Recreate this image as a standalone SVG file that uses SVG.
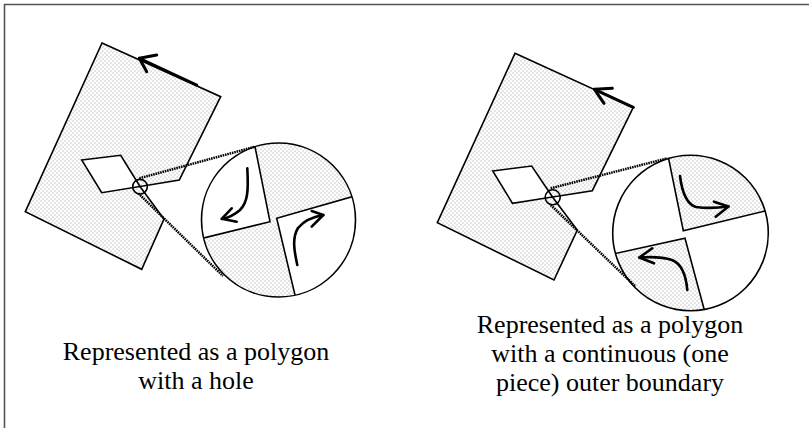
<svg xmlns="http://www.w3.org/2000/svg" width="809" height="428" viewBox="0 0 809 428">
<style>
.edge{fill:none;stroke:#000;stroke-width:1.6;stroke-linejoin:miter}
.shape{fill:url(#dots);stroke:#000;stroke-width:1.6;fill-rule:evenodd}
.dot{fill:none;stroke:#000;stroke-width:2.5;stroke-dasharray:1.6 0.8}
.arr{fill:none;stroke:#000;stroke-width:2.6;stroke-linecap:round;stroke-linejoin:round}
.big{fill:none;stroke:#000;stroke-width:3;stroke-linecap:round;stroke-linejoin:round}
.lbl{font-family:"Liberation Serif","Times New Roman",serif;font-size:26px;fill:#000;text-anchor:middle}
</style>
<defs>
<pattern id="dots" width="4" height="4" patternUnits="userSpaceOnUse">
<rect width="4" height="4" fill="#fff"/>
<circle cx="1" cy="1" r="0.8" fill="#c4c4c4"/>
<circle cx="3" cy="3" r="0.8" fill="#c4c4c4"/>
</pattern>
<clipPath id="cl"><circle cx="278.5" cy="220" r="77"/></clipPath>
<clipPath id="cr"><circle cx="690.5" cy="233" r="77.8"/></clipPath>
</defs>
<rect x="0" y="0" width="809" height="428" fill="#fff"/>
<path d="M4.5 430 V4.5 H812" fill="none" stroke="#555" stroke-width="1.6"/>

<g id="left-polygon">
<path class="shape" d="M102 43 L220.7 96.7 L179.3 180 L140 186.5 L164 219 L141.7 269.3 L25.3 211.7 Z M81.7 160 L120.7 155.3 L140 186.5 L101.7 192.7 Z"/>
<circle cx="140" cy="186.7" r="7.3" class="edge" stroke-width="1.5"/>
<polyline class="big" points="196.7,85 139.3,58.3"/>
<polyline class="big" points="156.7,55 139.3,58.3 146.7,71.7"/>
</g>

<g id="left-zoom">
<circle cx="278.5" cy="220" r="77" fill="url(#dots)"/>
<g clip-path="url(#cl)">
<polygon points="250,121.7 270,221.7 180,243.8 180,121.7" fill="#fff"/>
<polygon points="376,190 276.7,218.3 300,316 376,316" fill="#fff"/>
<polyline class="edge" points="250,121.7 270,221.7 180,243.8"/>
<polyline class="edge" points="376,190 276.7,218.3 300,316"/>
</g>
<circle cx="278.5" cy="220" r="77" class="edge"/>
<path class="arr" d="M247.3 168.3 C248.5 190 248 202 240 210 Q232 217 222 219"/>
<polyline class="arr" points="231.7,208.3 221.7,218.8 236.7,221.7"/>
<path class="arr" d="M297.3 265 C294 250 292 238 298 228 Q306 218 323.3 215"/>
<polyline class="arr" points="311.7,211 323.3,215 311.7,226.7"/>
</g>

<g id="right-polygon">
<path class="shape" d="M515 53.3 L633.3 107.3 L592.3 190.7 L552.5 197 L577.3 230 L554 280 L437.3 222.7 Z M492.7 171 L531.7 166 L552.5 197 L512.5 203.3 Z"/>
<circle cx="552.7" cy="197.3" r="7.5" class="edge" stroke-width="1.5"/>
<polyline class="big" points="633.3,107.3 594.5,89.3"/>
<polyline class="big" points="612.3,88.3 594.5,89.3 604,103.3"/>
</g>

<g id="right-zoom">
<circle cx="690.5" cy="233" r="77.8" fill="#fff"/>
<g clip-path="url(#cr)">
<polygon points="663,131 683.3,230.7 790,205 790,131" fill="url(#dots)"/>
<polygon points="590,259 685,238.3 710,331 590,331" fill="url(#dots)"/>
<polyline class="edge" points="663,131 683.3,230.7 790,205"/>
<polyline class="edge" points="590,259 685,238.3 710,331"/>
</g>
<circle cx="690.5" cy="233" r="77.8" class="edge"/>
<path class="arr" d="M680 176 C682 192 686 204 696 207 Q710 209 728.5 206.5"/>
<polyline class="arr" points="714,201.7 728.5,206.5 715.7,216.7"/>
<path class="arr" d="M687.3 290 C686 275 682 264 672 260 Q660 256 639.3 257.5"/>
<polyline class="arr" points="652.3,248.3 639.3,257.5 654,263.3"/>
</g>

<g id="connectors">
<line class="dot" x1="139.3" y1="178.3" x2="255" y2="146.7"/>
<line class="dot" x1="138.3" y1="193.3" x2="223" y2="276"/>
<line class="dot" x1="550.7" y1="188.3" x2="667.3" y2="158.3"/>
<line class="dot" x1="550.7" y1="205" x2="635.7" y2="286.7"/>
</g>

<g id="labels">
<text class="lbl" x="196" y="360">Represented as a polygon</text>
<text class="lbl" x="196" y="389">with a hole</text>
<text class="lbl" x="610" y="333">Represented as a polygon</text>
<text class="lbl" x="610" y="362">with a continuous (one</text>
<text class="lbl" x="610" y="391">piece) outer boundary</text>
</g>
</svg>
